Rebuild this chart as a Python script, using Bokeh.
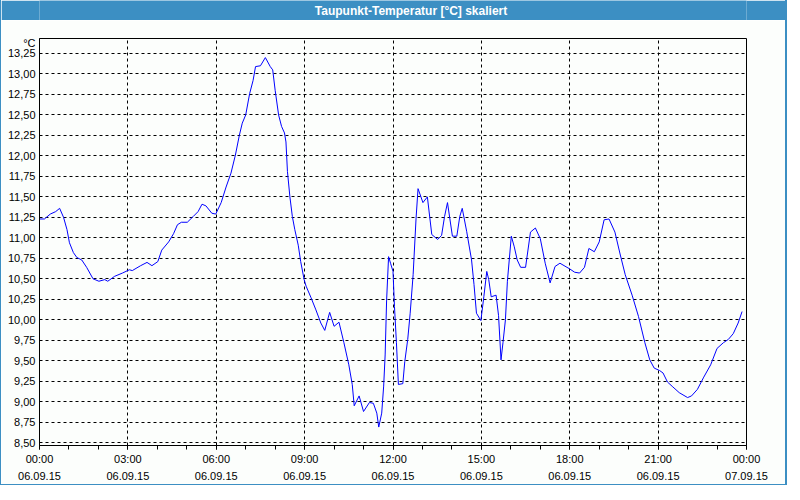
from bokeh.plotting import figure
from bokeh.models import FixedTicker, ColumnDataSource, CustomJSTickFormatter
from bokeh.layouts import column
from bokeh.embed import file_html
from bokeh.resources import INLINE
from bokeh.core.properties import value

TITLE = "Taupunkt-Temperatur [°C] skaliert"
UNIT = "°C"

# minutes after 06.09.15 00:00
minutes = [
    0, 10, 22, 33, 41, 49, 56, 61, 69, 76,
    86, 96, 109, 121, 133, 139, 153, 169, 183, 189,
    206, 219, 229, 241, 249, 263, 273, 281, 289, 301,
    313, 323, 331, 339, 351, 359, 370, 380, 390, 399,
    407, 413, 420, 428, 435, 440, 450, 460, 470, 475,
    480, 487, 493, 499, 502, 505, 510, 515, 520, 527,
    532, 539, 543, 553, 563, 573, 581, 591, 600, 610,
    620, 630, 637, 641, 651, 660, 672, 680, 687, 691,
    697, 701, 704, 707, 711, 715, 720, 723, 727, 731,
    740, 744, 750, 755, 761, 767, 771, 781, 790, 799,
    811, 819, 825, 831, 841, 850, 856, 861, 870, 880,
    885, 890, 899, 905, 911, 915, 920, 930, 935, 940,
    944, 949, 953, 961, 967, 973, 980, 990, 1000, 1010,
    1020, 1030, 1040, 1050, 1060, 1080, 1090, 1100, 1110, 1119,
    1130, 1140, 1150, 1160, 1172, 1183, 1193, 1207, 1220, 1233,
    1243, 1252, 1263, 1270, 1279, 1290, 1303, 1320, 1328, 1340,
    1353, 1367, 1380, 1393, 1403, 1413, 1423, 1431,
]

dewpoint = [
    11.23, 11.23, 11.29, 11.32, 11.36, 11.25, 11.10, 10.94, 10.82, 10.76,
    10.73, 10.64, 10.50, 10.47, 10.49, 10.47, 10.53, 10.57, 10.61, 10.60,
    10.66, 10.70, 10.66, 10.71, 10.85, 10.95, 11.05, 11.16, 11.19, 11.19,
    11.26, 11.32, 11.41, 11.39, 11.30, 11.29, 11.43, 11.62, 11.79, 12.01,
    12.25, 12.40, 12.50, 12.76, 12.92, 13.09, 13.10, 13.20, 13.09, 13.05,
    12.80, 12.50, 12.36, 12.28, 12.17, 11.81, 11.50, 11.26, 11.10, 10.91,
    10.71, 10.49, 10.41, 10.27, 10.12, 9.96, 9.87, 10.09, 9.92, 9.97,
    9.72, 9.45, 9.21, 8.95, 9.07, 8.88, 8.99, 8.98, 8.86, 8.69,
    8.86, 9.19, 9.57, 10.24, 10.77, 10.69, 10.59, 10.16, 9.72, 9.21,
    9.22, 9.49, 9.76, 10.08, 10.55, 11.24, 11.60, 11.43, 11.50, 11.04,
    10.98, 11.03, 11.26, 11.43, 11.02, 11.02, 11.26, 11.36, 11.08, 10.73,
    10.43, 10.08, 9.99, 10.28, 10.59, 10.49, 10.28, 10.30, 10.05, 9.51,
    9.72, 10.00, 10.47, 11.02, 10.89, 10.73, 10.64, 10.64, 11.07, 11.12,
    10.99, 10.69, 10.45, 10.65, 10.69, 10.62, 10.58, 10.57, 10.64, 10.87,
    10.83, 10.95, 11.22, 11.23, 11.07, 10.79, 10.55, 10.30, 10.04, 9.72,
    9.51, 9.41, 9.38, 9.35, 9.24, 9.18, 9.11, 9.05, 9.07, 9.15,
    9.30, 9.45, 9.65, 9.72, 9.76, 9.83, 9.96, 10.10,
]

x_tick_hours = [0, 3, 6, 9, 12, 15, 18, 21, 24]
x_tick_labels = [
    "00:00\n06.09.15", "03:00\n06.09.15", "06:00\n06.09.15",
    "09:00\n06.09.15", "12:00\n06.09.15", "15:00\n06.09.15",
    "18:00\n06.09.15", "21:00\n06.09.15", "00:00\n07.09.15",
]
x_minor_hours = [0, 1, 2, 3, 4, 5, 6, 7, 8, 9, 10, 11, 12,
                 13, 14, 15, 16, 17, 18, 19, 20, 21, 22, 23, 24]
y_ticks = [8.50, 8.75, 9.00, 9.25, 9.50, 9.75, 10.00, 10.25, 10.50, 10.75,
           11.00, 11.25, 11.50, 11.75, 12.00, 12.25, 12.50, 12.75, 13.00, 13.25]
Y_MIN, Y_MAX = 8.465, 13.433
UNIT_POS = 13.375   # where the unit caption sits on the y scale

BLUE = "#3c8fc3"
BG = "#fcfefc"
FONT = "Liberation Sans"
W = 784
TITLE_H = 20
H = 464

hours = [m / 60.0 for m in minutes]
src = ColumnDataSource(dict(h=hours, v=dewpoint))

bar = figure(width=W, height=TITLE_H, x_range=(0, W), y_range=(0, TITLE_H),
             x_axis_type=None, y_axis_type=None, toolbar_location=None,
             output_backend="svg", min_border=0)
bar.background_fill_color = BLUE
bar.border_fill_color = BLUE
bar.outline_line_color = None
bar.text(x=[412], y=[10], text=[TITLE], text_color="white",
         text_font=value(FONT), text_font_style="bold", text_font_size="12px",
         text_align="center", text_baseline="middle")

p = figure(width=W, height=H, x_range=(0, 24), y_range=(Y_MIN, Y_MAX),
           toolbar_location=None, output_backend="svg",
           min_border_left=38, min_border_right=39,
           min_border_top=18, min_border_bottom=38)
p.background_fill_color = BG
p.border_fill_color = BG
p.outline_line_color = "black"
p.outline_line_width = 1

p.xaxis.ticker = FixedTicker(ticks=x_tick_hours, minor_ticks=x_minor_hours)
p.xaxis.major_label_overrides = dict(zip(x_tick_hours, x_tick_labels))
p.xaxis.major_tick_out = 4
p.xaxis.major_tick_in = 0
p.xaxis.minor_tick_out = 4
p.xaxis.minor_tick_in = 0
p.xaxis.major_label_standoff = 3
p.xaxis.major_label_text_line_height = 1.45

p.yaxis.ticker = FixedTicker(ticks=y_ticks + [UNIT_POS])
p.ygrid.ticker = FixedTicker(ticks=y_ticks)
p.yaxis.formatter = CustomJSTickFormatter(
    args=dict(unit=UNIT, upos=UNIT_POS),
    code="if (Math.abs(tick - upos) < 1e-6) { return unit; } return tick.toFixed(2).replace('.', ',');")
p.yaxis.major_tick_out = 0
p.yaxis.major_tick_in = 0
p.yaxis.minor_tick_out = 0
p.yaxis.minor_tick_in = 0
p.yaxis.major_label_standoff = 4

for ax in (p.xaxis, p.yaxis):
    ax.axis_line_color = "black"
    ax.major_tick_line_color = "black"
    ax.minor_tick_line_color = "black"
    ax.major_label_text_color = "black"
    ax.major_label_text_font = FONT
    ax.major_label_text_font_size = "11px"

p.grid.grid_line_color = "black"
p.grid.grid_line_dash = "3 3"
p.grid.grid_line_width = 1
p.grid.grid_line_alpha = 1

p.line(x="h", y="v", source=src, line_color="#0000ff", line_width=1)

layout = column(bar, p, spacing=0)
layout.styles = {"border-left": f"1px solid {BLUE}", "border-right": f"2px solid {BLUE}",
                 "border-bottom": f"1px solid {BLUE}"}
open("out.html", "w").write(file_html(layout, INLINE, title=TITLE))
